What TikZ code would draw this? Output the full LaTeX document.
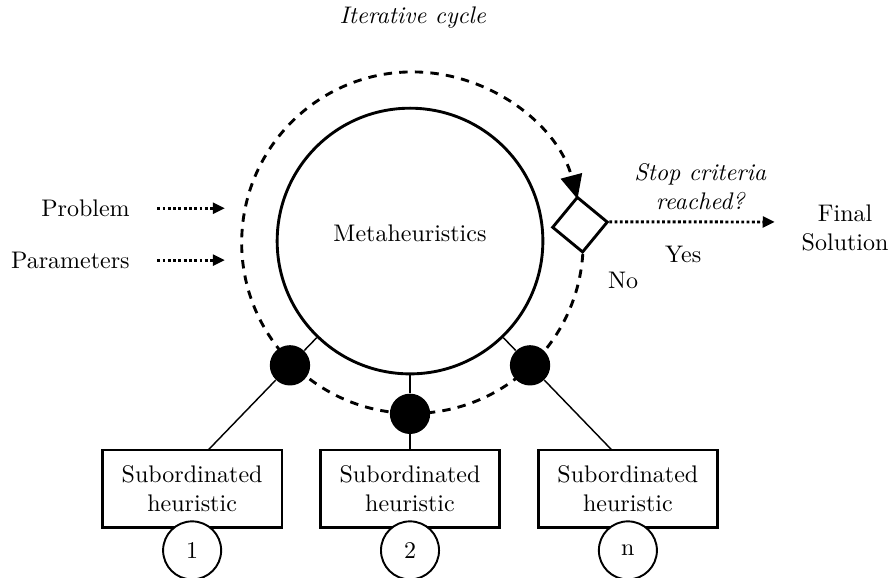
\documentclass[tikz,border=0pt]{standalone}
\usepackage{amsmath}
\usetikzlibrary{arrows.meta, positioning, shapes.geometric}

\tikzset{
  subbox/.style={draw, very thick, fill=white, minimum width=2.63cm, minimum height=1.13cm, align=center, inner sep=2pt},
  numcirc/.style={circle, draw, thick, fill=white, minimum size=0.85cm, inner sep=0},
  blob/.style={circle, fill=black, minimum size=0.59cm, inner sep=0},
  feed/.style={line width=1.2pt, dash pattern=on 1.2pt off 1pt, -{Triangle[length=5pt,width=4.5pt]}},
  cycleline/.style={line width=1.2pt, dash pattern=on 3.5pt off 3pt, -{Triangle[length=10pt,width=9pt]}}
}

\begin{document}
\begin{tikzpicture}
\useasboundingbox (-6.003,-4.919) rectangle (7.042,3.529);
\node[circle, draw, very thick, minimum size=3.89cm, inner sep=0] (meta) at (0,0) {};
\node (metatxt) at (0,0.12) {Metaheuristics};
\node[diamond, draw, very thick, minimum size=0.82cm, inner sep=0, rotate=5.5] (stop) at (5.5:2.5) {};
% iterative cycle
\draw[cycleline] (stop.south) arc[start angle=-3.8, end angle=-345.2, radius=2.5cm];
\node[font=\itshape] (iter) at (0.04,3.265) {Iterative cycle};
% inputs
\foreach \t/\y/\k in {Problem/0.48/P, Parameters/-0.28/Q}{
	\node[anchor=east] (in\k) at (-3.98,\y) {\t};
	\coordinate (to\k) at (-2.71,\y);
	\draw[feed, shorten <=0.28cm] (in\k) -- (to\k);
	}
% subordinated heuristics
\foreach \a/\x/\n in {226/-3.19/1, 270/0/2, 314/3.19/n}{
	\coordinate (hook\n) at (\a:{-3.06/sin(\a)});
	\node[blob] (dot\n) at (\a:2.53) {};
	\draw[semithick] (meta.\a) -- (dot\n) -- (hook\n);
	\node[subbox] (sub\n) at (\x,-3.624) {Subordinated\\heuristic};
	\node[numcirc, below=-0.12cm of sub\n] (num\n) {\n};
	}
% output
\coordinate (outY) at (5.34,0.279);
\draw[feed] (stop.east) -- (outY);
\node[align=center, font=\itshape] (crit) at (4.25,0.8) {Stop criteria\\reached?};
\node (yes) at (4.0,-0.19) {Yes};
\node (no) at (3.12,-0.57) {No};
\node[align=center] (sol) at (6.37,0.19) {Final\\Solution};
\end{tikzpicture}
\end{document}
